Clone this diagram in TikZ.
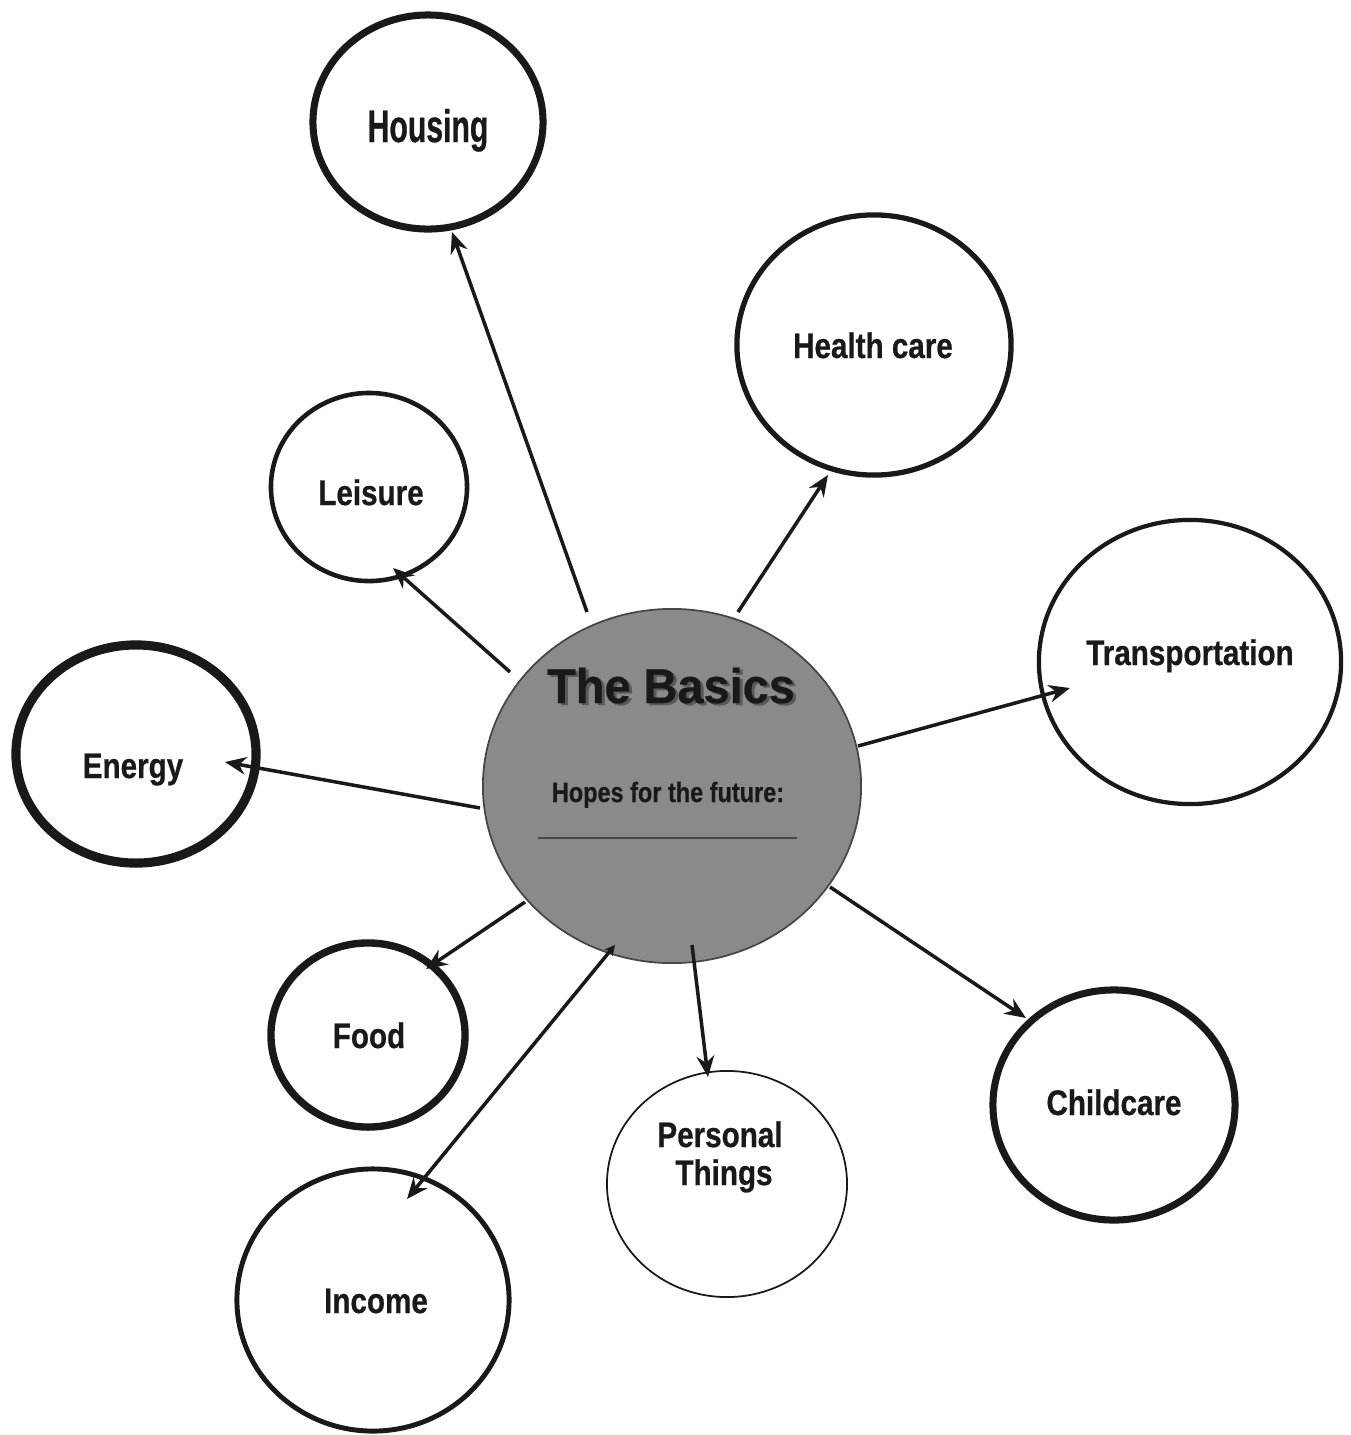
\documentclass[tikz,border=0pt]{standalone}
\usepackage{fontspec}
\setmainfont{Liberation Sans}
\newfontfamily\lblfont{Liberation Sans}[FakeStretch=0.834,FakeBold=0.6]
\newfontfamily\housefont{Liberation Sans}[FakeStretch=0.66,FakeBold=0.6]
\newfontfamily\hopesfont{Liberation Sans}[FakeStretch=0.84,FakeBold=0.5]
\newfontfamily\titlefont{Liberation Sans}[FakeStretch=0.96,FakeBold=0.5]
\usetikzlibrary{shapes.geometric,arrows.meta,calc}
\definecolor{basicsfill}{RGB}{138,138,138}
\definecolor{ink}{RGB}{25,25,25}
\definecolor{rim}{RGB}{70,70,70}
\tikzset{
  bubble/.style={ellipse, draw=ink, fill=white, inner sep=0pt, outer sep=0pt},
  lbl/.style={font=\lblfont\bfseries\fontsize{10.1pt}{13pt}\selectfont, text=ink, inner sep=0pt, anchor=base},
  arr/.style={draw=ink, line width=1pt, -{Stealth[length=6pt,width=5pt]}},
}
\begin{document}
\begin{tikzpicture}[x=0.01cm, y=-0.01cm]
\fill[white] (0,0) rectangle (1351,1435);
\useasboundingbox (0,0) rectangle (1351,1435);

% bubbles
\node[bubble, minimum width=2.30cm, minimum height=2.14cm, line width=2.0pt] (housing) at (428,122) {};
\node[bubble, minimum width=2.74cm, minimum height=2.60cm, line width=1.5pt] (health) at (874,345) {};
\node[bubble, minimum width=1.96cm, minimum height=1.88cm, line width=1.3pt] (leisure) at (369,487) {};
\node[bubble, minimum width=2.40cm, minimum height=2.18cm, line width=2.6pt] (energy) at (136,754) {};
\node[bubble, minimum width=3.02cm, minimum height=2.84cm, line width=1.2pt] (transport) at (1190,662) {};
\node[bubble, minimum width=1.94cm, minimum height=1.84cm, line width=2.1pt] (food) at (368,1035) {};
\node[bubble, minimum width=2.40cm, minimum height=2.26cm, line width=0.5pt] (personal) at (727,1184) {};
\node[bubble, minimum width=2.42cm, minimum height=2.30cm, line width=2.0pt] (childcare) at (1114,1105) {};
\node[bubble, minimum width=2.72cm, minimum height=2.62cm, line width=1.4pt] (income) at (373,1300) {};

% central bubble
\node[ellipse, draw=rim, fill=basicsfill, line width=0.5pt, inner sep=0pt, outer sep=0pt,
      minimum width=3.78cm, minimum height=3.54cm] (basics) at (672,786) {};

% connectors
\draw[arr] ($(basics)+(-85,-174)$) -- ($(housing)+(24,110)$);
\draw[arr] ($(basics)+(66,-174)$) -- ($(health)+(-46,130)$);
\draw[arr] ($(basics)+(-162,-114)$) -- ($(leisure)+(24,81)$);
\draw[arr] ($(basics)+(-192,22)$) -- ($(energy)+(89,8)$);
\draw[arr] ($(basics)+(186,-40)$) -- ($(transport)+(-120,26)$);
\draw[arr] ($(basics)+(-147,116)$) -- ($(food)+(58,-66)$);
\draw[arr] ($(basics)+(20,159)$) -- ($(personal)+(-19,-107)$);
\draw[arr] ($(basics)+(158,101)$) -- ($(childcare)+(-88,-87)$);
\draw[arr, {Stealth[length=3pt,width=3pt]}-{Stealth[length=6pt,width=5pt]}] ($(basics)+(-57,159)$) -- ($(income)+(34,-101)$);

% central texts
\node[font=\titlefont\bfseries\fontsize{13.9pt}{16pt}\selectfont, text=black!65, inner sep=0pt, anchor=base] (titleshadow) at (674,705) {The Basics};
\node[font=\titlefont\bfseries\fontsize{13.9pt}{16pt}\selectfont, text=ink, inner sep=0pt, anchor=base] (title) at (671,703) {The Basics};
\node[font=\hopesfont\bfseries\fontsize{7.95pt}{10pt}\selectfont, text=ink, inner sep=0pt, anchor=base] (hopes) at (668,802) {Hopes for the future:};
\draw[rim, line width=0.45pt] ($(basics)+(-134,52)$) -- ($(basics)+(125,52)$);

% labels
\node[lbl, font=\housefont\bfseries\fontsize{13pt}{15pt}\selectfont] (housingtext) at (428,142) {Housing};
\node[lbl] (healthtext) at (873,358) {Health care};
\node[lbl] (leisuretext) at (371,505) {Leisure};
\node[lbl] (energytext) at (133,778) {Energy};
\node[lbl] (transporttext) at (1190,665) {Transportation};
\node[lbl] (foodtext) at (369,1048) {Food};
\node[lbl] (personaltext) at (720,1147) {Personal};
\node[lbl] (thingstext) at (724,1185) {Things};
\node[lbl] (childcaretext) at (1114,1115) {Childcare};
\node[lbl] (incometext) at (376,1313) {Income};
\end{tikzpicture}
\end{document}
